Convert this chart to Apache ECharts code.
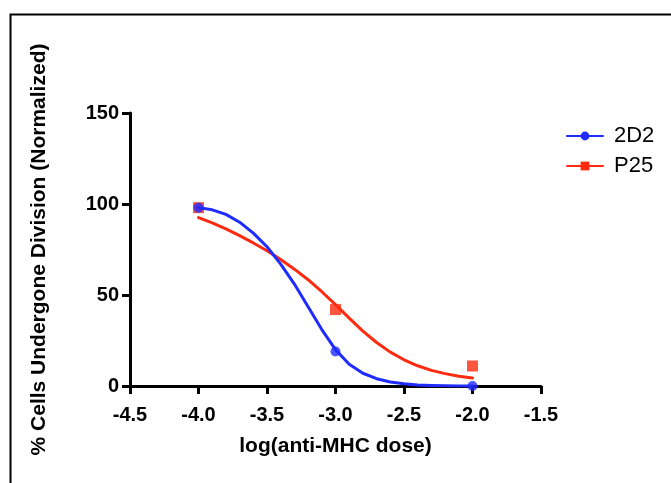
<!DOCTYPE html>
<html>
<head>
<meta charset="utf-8">
<script src="https://cdn.jsdelivr.net/npm/echarts@6/dist/echarts.min.js"></script>
<style>html,body{margin:0;padding:0;background:#fff}#c{width:671px;height:483px}</style>
</head>
<body>
<div id="c"></div>
<script>
// Tick values
var xTicks = [-4.5, -4.0, -3.5, -3.0, -2.5, -2.0, -1.5];
var yTicks = [0, 50, 100, 150];

// Measured points (log dose, % normalized)
var dose = [-4, -3, -2];
var pts2D2 = [98, 19, 0];
var ptsP25 = [98, 42, 11];

// Fitted curves
var curveX = [-4.0, -3.9, -3.8, -3.7, -3.6, -3.5, -3.4, -3.3, -3.2, -3.1, -3.0, -2.9, -2.8, -2.7, -2.6, -2.5, -2.4, -2.3, -2.2, -2.1, -2.0];
var curve2D2 = [98, 96.8, 94.3, 90, 84, 76.5, 67, 56, 43.5, 31, 20, 12, 7, 4, 2.2, 1.2, 0.6, 0.3, 0.15, 0.05, 0];
var curveP25 = [92.5, 89.6, 86.3, 82.6, 78.6, 74.3, 69.5, 64.2, 58.4, 51.8, 44.7, 37.3, 30.2, 23.9, 18.6, 14.4, 11.1, 8.6, 6.8, 5.4, 4.4];

var seriesNames = ['2D2', 'P25'];
var blue = '#1f2bff';
var red = '#ff2a0f';

function pairs(xs, ys) { return xs.map(function (x, i) { return [x, ys[i]]; }); }

var chart = echarts.init(document.getElementById('c'), null, { renderer: 'canvas' });
var font = 'Liberation Sans, Arial, Helvetica, sans-serif';
chart.setOption({
  animation: false,
  backgroundColor: '#fff',
  graphic: [{
    type: 'rect', left: 8, top: 12, silent: true,
    shape: { x: 0, y: 0, width: 700, height: 520 },
    style: { fill: 'none', stroke: '#000', lineWidth: 2 }
  }],
  grid: { left: 130, right: 130, top: 113, bottom: 97, containLabel: false },
  legend: {
    data: seriesNames,
    orient: 'vertical',
    left: 566, top: 125, padding: 0,
    itemWidth: 36, itemHeight: 11, itemGap: 8,
    textStyle: { fontFamily: font, fontSize: 22, color: '#000', padding: [0, 0, 0, 6] }
  },
  xAxis: {
    type: 'value', min: -4.5, max: -1.5, interval: 0.5,
    name: 'log(anti-MHC dose)', nameLocation: 'middle', nameGap: 50,
    nameTextStyle: { fontFamily: font, fontSize: 21, fontWeight: 'bold', color: '#000' },
    axisLine: { show: true, onZero: false, lineStyle: { color: '#000', width: 3 } },
    axisTick: { show: true, length: 8, lineStyle: { color: '#000', width: 3 } },
    axisLabel: { fontFamily: font, fontSize: 20, fontWeight: 'bold', color: '#000', margin: 19,
      formatter: function (v) { return v.toFixed(1); } },
    splitLine: { show: false }
  },
  yAxis: {
    type: 'value', min: 0, max: 150, interval: 50,
    name: '% Cells Undergone Division (Normalized)', nameLocation: 'middle', nameGap: 80, nameRotate: 90,
    nameTextStyle: { fontFamily: font, fontSize: 21, fontWeight: 'bold', color: '#000' },
    axisLine: { show: true, onZero: false, lineStyle: { color: '#000', width: 3 } },
    axisTick: { show: true, length: 8, lineStyle: { color: '#000', width: 3 } },
    axisLabel: { fontFamily: font, fontSize: 20, fontWeight: 'bold', color: '#000', margin: 11 },
    splitLine: { show: false }
  },
  series: [
    { name: 'P25', type: 'line', data: pairs(curveX, curveP25), smooth: false, showSymbol: false,
      symbol: 'rect', symbolSize: 11, itemStyle: { color: red }, lineStyle: { color: red, width: 3, join: 'round', cap: 'round' }, z: 2 },
    { name: 'P25', type: 'scatter', data: pairs(dose, ptsP25), symbol: 'rect', symbolSize: 11,
      itemStyle: { color: red }, z: 3 },
    { name: '2D2', type: 'line', data: pairs(curveX, curve2D2), smooth: false, showSymbol: false,
      symbol: 'circle', symbolSize: 10, itemStyle: { color: blue }, lineStyle: { color: blue, width: 3, join: 'round', cap: 'round' }, z: 4 },
    { name: '2D2', type: 'scatter', data: pairs(dose, pts2D2), symbol: 'circle', symbolSize: 10,
      itemStyle: { color: blue }, z: 5 }
  ]
});
</script>
</body>
</html>
